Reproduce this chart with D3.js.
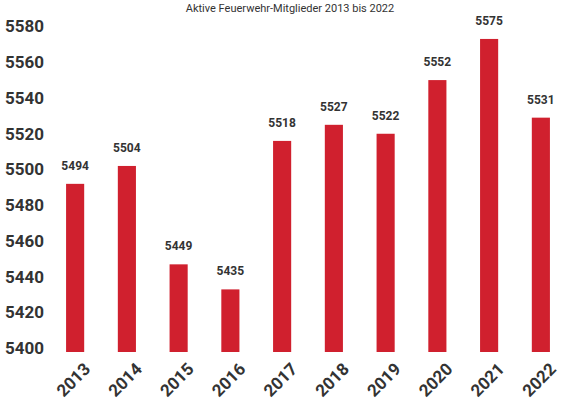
<!DOCTYPE html>
<html><head><meta charset="utf-8">
<script src="https://cdn.jsdelivr.net/npm/d3@7"></script>
<style>body{margin:0;background:#fff}</style></head>
<body><div id="chart"></div>
<script>
var years = ['2013','2014','2015','2016','2017','2018','2019','2020','2021','2022'];
var members = [5494, 5504, 5449, 5435, 5518, 5527, 5522, 5552, 5575, 5531];
var yTicks = [5400, 5420, 5440, 5460, 5480, 5500, 5520, 5540, 5560, 5580];

var width = 576, height = 406;
var svg = d3.select('#chart').append('svg').attr('width', width).attr('height', height);

var x = d3.scaleBand().domain(years).range([49, 567]).paddingInner(0.65).paddingOuter(0.33);
var y = d3.scaleLinear().domain([5400, 5580]).range([352, 30]);

svg.append('text').attr('x', 290).attr('y', 12).attr('text-anchor', 'middle')
    .style('font-family', 'Roboto').style('font-size', '11px').attr('fill', '#333')
    .text('Aktive Feuerwehr-Mitglieder 2013 bis 2022');

var yAxis = svg.append('g').attr('transform', 'translate(44,0)')
    .call(d3.axisLeft(y).tickValues(yTicks).tickSize(0).tickPadding(0).tickFormat(d3.format('d')));
yAxis.select('.domain').remove();
yAxis.selectAll('text').style('font-family', 'Roboto').style('font-weight', 'bold')
    .style('font-size', '17px').attr('fill', '#333').attr('dy', '0.1em').attr('x', 0);

svg.selectAll('.bar').data(members).enter().append('rect')
    .attr('x', function (d, i) { return x(years[i]); })
    .attr('y', function (d) { return y(d); })
    .attr('width', x.bandwidth())
    .attr('height', function (d) { return 352 - y(d); })
    .attr('fill', '#d0202e');

svg.selectAll('.val').data(members).enter().append('text')
    .attr('x', function (d, i) { return x(years[i]) + x.bandwidth() / 2; })
    .attr('y', function (d) { return y(d) - 14; })
    .attr('text-anchor', 'middle')
    .style('font-family', 'Roboto').style('font-weight', 'bold').style('font-size', '12px')
    .attr('fill', '#333').text(function (d) { return d; });

var xAxis = svg.append('g').attr('transform', 'translate(0,352)')
    .call(d3.axisBottom(x).tickSize(0).tickPadding(0));
xAxis.select('.domain').remove();
xAxis.selectAll('text').style('font-family', 'Roboto').style('font-weight', 'bold')
    .style('font-size', '17px').attr('fill', '#333')
    .attr('text-anchor', 'end').attr('dy', '0.35em')
    .attr('transform', 'translate(12,14) rotate(-45)');
</script></body></html>
